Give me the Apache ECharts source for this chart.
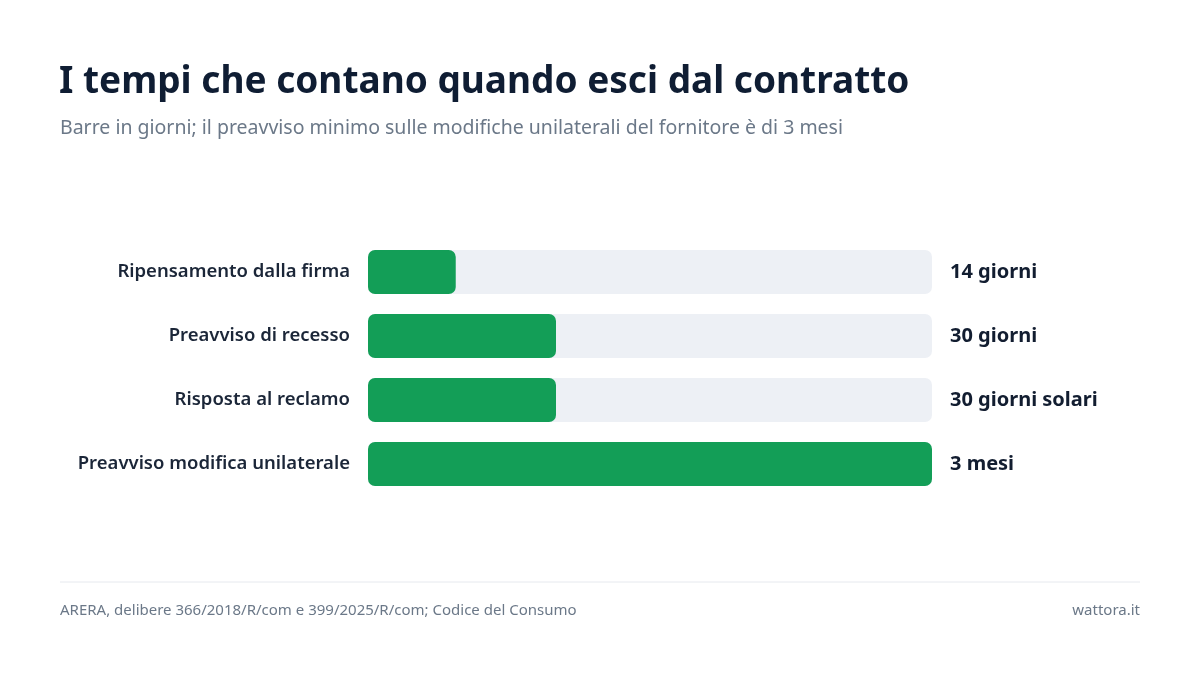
<!DOCTYPE html>
<html lang="it">
<head>
    <meta charset="UTF-8">
    <title>I tempi che contano</title>
    <style>
        html, body { margin: 0; padding: 0; background: #fff; }
        #main { width: 1200px; height: 675px; }
    </style>
</head>
<body>
<div id="main"></div>
<script src="https://cdn.jsdelivr.net/npm/echarts@6/dist/echarts.min.js"></script>
<script>
// dati
var categorie = ['Ripensamento dalla firma', 'Preavviso di recesso', 'Risposta al reclamo', 'Preavviso modifica unilaterale'];
var giorni = [14, 30, 30, 90];
var etichette = ['14 giorni', '30 giorni', '30 giorni solari', '3 mesi'];
var scalaMax = 90;

var font = '"Noto Sans", "Open Sans", sans-serif';

var myChart = echarts.init(document.getElementById('main'));

var option = {
    backgroundColor: '#ffffff',
    animation: false,
    title: [
        {
            text: 'I tempi che contano quando esci dal contratto',
            left: 59, top: 64, padding: 0,
            textStyle: { fontFamily: font, fontSize: 37, fontWeight: 'bold', color: '#0f1d33' }
        },
        {
            text: 'Barre in giorni; il preavviso minimo sulle modifiche unilaterali del fornitore è di 3 mesi',
            left: 60, top: 118, padding: 0,
            textStyle: { fontFamily: font, fontSize: 19.5, fontWeight: 'normal', color: '#6b7888' }
        }
    ],
    grid: { left: 368, right: 268, top: 240, bottom: 179 },
    xAxis: {
        type: 'value', min: 0, max: scalaMax,
        show: false
    },
    yAxis: [
        {
            type: 'category', data: categorie, inverse: true,
            axisLine: { show: false }, axisTick: { show: false },
            axisLabel: { margin: 18, fontFamily: font, fontSize: 18.5, fontWeight: 600, color: '#1b2638', padding: [3, 0, 0, 0] }
        },
        {
            type: 'category', data: etichette, inverse: true, position: 'right',
            axisLine: { show: false }, axisTick: { show: false },
            axisLabel: { margin: 18, fontFamily: font, fontSize: 20, fontWeight: 'bold', color: '#121d30', padding: [3, 0, 0, 0] }
        }
    ],
    series: [
        {
            type: 'bar',
            data: giorni,
            barWidth: 44,
            showBackground: true,
            backgroundStyle: { color: '#edf0f5', borderRadius: 7 },
            itemStyle: { color: '#139e57', borderRadius: 7 }
        }
    ],
    graphic: [
        {
            type: 'line', shape: { x1: 60, y1: 582, x2: 1140, y2: 582 },
            style: { stroke: '#e6e9ee', lineWidth: 1 }
        },
        {
            type: 'text', left: 60, top: 603,
            style: { text: 'ARERA, delibere 366/2018/R/com e 399/2025/R/com; Codice del Consumo', fontFamily: font, fontSize: 15, fill: '#6b7888' }
        },
        {
            type: 'text', right: 60, top: 603,
            style: { text: 'wattora.it', fontFamily: font, fontSize: 15, fill: '#6b7888' }
        }
    ]
};

myChart.setOption(option);
</script>
</body>
</html>
